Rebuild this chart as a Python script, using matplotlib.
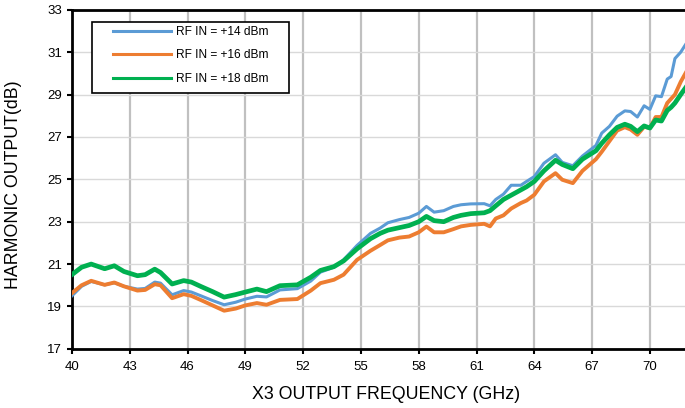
import matplotlib
matplotlib.use("Agg")
import matplotlib.pyplot as plt
from matplotlib.lines import Line2D
from matplotlib.patches import Rectangle

plt.rcParams['font.family'] = ['Liberation Sans', 'DejaVu Sans']

# frequency points (GHz), shared by the three curves
freq = [40.0, 40.5, 41.0, 41.7, 42.2, 42.7, 43.4, 43.8, 44.3, 44.6,
        45.2, 45.8, 46.2, 46.7, 47.3, 47.9, 48.5, 49.0, 49.6, 50.1,
        50.8, 51.7, 52.4, 52.9, 53.6, 54.1, 54.8, 55.5, 56.0, 56.4,
        57.0, 57.5, 58.0, 58.4, 58.8, 59.3, 59.8, 60.2, 60.7, 61.4,
        61.7, 62.0, 62.4, 62.8, 63.3, 63.6, 64.0, 64.5, 65.1, 65.45,
        66.0, 66.5, 67.2, 67.5, 67.9, 68.3, 68.7, 69.0, 69.35, 69.7,
        70.0, 70.3, 70.6, 70.9, 71.1, 71.3, 71.6, 71.9]

rf14 = [19.5, 19.95, 20.18, 20.02, 20.12, 19.95, 19.82, 19.85, 20.15, 20.1,
        19.55, 19.75, 19.68, 19.5, 19.28, 19.08, 19.2, 19.35, 19.48, 19.45,
        19.78, 19.84, 20.2, 20.62, 20.85, 21.2, 21.88, 22.45, 22.7, 22.95,
        23.1, 23.2, 23.4, 23.72, 23.45, 23.52, 23.72, 23.8, 23.84, 23.85,
        23.75, 24.05, 24.3, 24.72, 24.72, 24.9, 25.13, 25.76, 26.16, 25.8,
        25.64, 26.1, 26.6, 27.18, 27.5, 27.98, 28.23, 28.2, 27.94, 28.47,
        28.3, 28.94, 28.9, 29.73, 29.85, 30.7, 31.0, 31.43]

rf16 = [19.63, 20.0, 20.21, 20.02, 20.13, 19.95, 19.75, 19.78, 20.05, 20.0,
        19.39, 19.58, 19.5, 19.3, 19.05, 18.8, 18.9, 19.05, 19.16, 19.08,
        19.31, 19.35, 19.75, 20.1, 20.26, 20.5, 21.2, 21.63, 21.9, 22.12,
        22.25, 22.3, 22.5, 22.77, 22.5, 22.5, 22.65, 22.78, 22.85, 22.9,
        22.78, 23.15, 23.3, 23.62, 23.88, 24.0, 24.27, 24.9, 25.29, 24.98,
        24.82, 25.4, 25.95, 26.3, 26.8, 27.3, 27.46, 27.35, 27.1, 27.48,
        27.42, 27.94, 27.94, 28.6, 28.8, 29.0, 29.6, 30.09]

rf18 = [20.5, 20.85, 21.0, 20.78, 20.92, 20.65, 20.45, 20.5, 20.76, 20.6,
        20.06, 20.22, 20.15, 19.94, 19.7, 19.44, 19.56, 19.68, 19.82, 19.7,
        19.98, 20.02, 20.38, 20.7, 20.88, 21.15, 21.72, 22.2, 22.45, 22.6,
        22.72, 22.82, 23.0, 23.25, 23.05, 23.0, 23.2, 23.3, 23.38, 23.42,
        23.52, 23.75, 24.05, 24.25, 24.5, 24.65, 24.9, 25.4, 25.9, 25.7,
        25.5, 25.95, 26.35, 26.7, 27.1, 27.45, 27.6, 27.5, 27.25, 27.52,
        27.42, 27.8, 27.75, 28.25, 28.4, 28.6, 29.0, 29.38]

labels = ["RF IN = +14 dBm", "RF IN = +16 dBm", "RF IN = +18 dBm"]
colors = ["#5B9BD5", "#ED7D31", "#00B050"]

xticks = list(range(40, 71, 3))
yticks = list(range(17, 34, 2))

fig = plt.figure(figsize=(6.85, 4.08), dpi=100)
ax = fig.add_axes([0.105, 0.145, 0.9, 0.831])

ax.plot(freq, rf14, color=colors[0], lw=2.2, zorder=3)
ax.plot(freq, rf16, color=colors[1], lw=2.8, zorder=4)
ax.plot(freq, rf18, color=colors[2], lw=3.4, zorder=5)

ax.set_xlim(40, 72)
ax.set_ylim(17, 33)
ax.set_xticks(xticks)
ax.set_yticks(yticks)
ax.tick_params(axis='both', labelsize=9.5, direction='out', length=3.5,
               width=1.5, colors='black')
ax.tick_params(axis='x', pad=5)

ax.grid(axis='x', color='#c0c0c0', lw=1.6, zorder=0)
ax.grid(axis='y', color='#d9d9d9', lw=1.0, zorder=0)
ax.set_axisbelow(True)

for side in ('left', 'bottom', 'top'):
    ax.spines[side].set_linewidth(2.0)
    ax.spines[side].set_color('black')
ax.spines['right'].set_visible(False)

ax.set_xlabel("X3 OUTPUT FREQUENCY (GHz)", fontsize=12.8)
ax.xaxis.set_label_coords(0.51, -0.109)
ax.set_ylabel("HARMONIC OUTPUT(dB)", fontsize=12.8)
ax.yaxis.set_label_coords(-0.081, 0.484)

# legend box drawn by hand so that the side padding can be wider than the top
ax.add_patch(Rectangle((0.0325, 0.755), 0.32, 0.2094, transform=ax.transAxes,
                       facecolor='white', edgecolor='black', lw=1.2,
                       zorder=9))
handles = [Line2D([], [], color=c, lw=2.2) for c in colors]
leg = ax.legend(handles, labels, loc='upper left',
                bbox_to_anchor=(0.0666, 0.952), borderaxespad=0,
                fontsize=8.6, handlelength=4.85, handletextpad=0.4,
                labelspacing=0.95, borderpad=0, frameon=False)
leg.set_zorder(10)

fig.savefig("out.png", dpi=100)
